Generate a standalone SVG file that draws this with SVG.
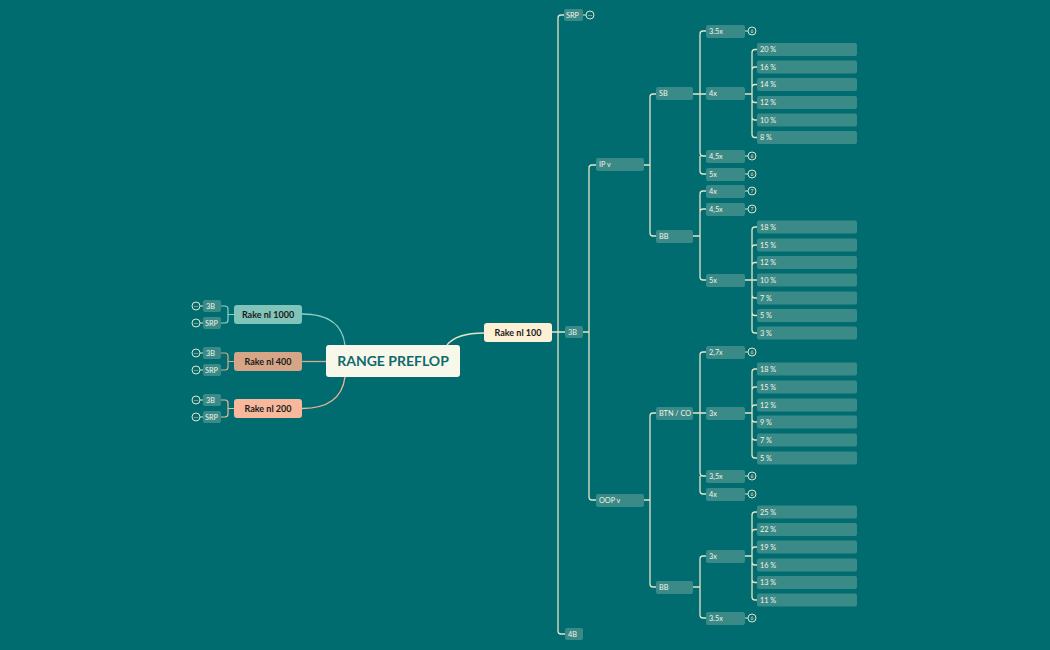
<svg xmlns="http://www.w3.org/2000/svg" width="1050" height="650" viewBox="0 0 1050 650">
<style>
.n{fill:#3a8a87}
.t{font-family:"Lato","Noto Sans",sans-serif;font-size:7.3px;font-weight:normal;fill:#f4f3e8}
.c{fill:none;stroke:#e6e3c8;stroke-width:1.3}
.b{fill:none;stroke:#e6e3c8;stroke-width:1}
.bt{font-family:"Lato","Noto Sans",sans-serif;font-size:5px;fill:#e6e3c8;text-anchor:middle}
.r{font-family:"Lato","Noto Sans",sans-serif;font-size:9px;font-weight:bold;fill:#1b1b1b;text-anchor:middle}
</style>
<rect width="1050" height="650" fill="#016c70"/>
<g id="connectors">
<path stroke="#8fd1c7" stroke-width="1.3" fill="none" d="M302 314 C335 314 343 330 345 345"/>
<path stroke="#d9a98a" stroke-width="1.3" fill="none" d="M302 361.5 H326"/>
<path stroke="#f6b59a" stroke-width="1.3" fill="none" d="M302 408.5 C335 408.5 343 392 345 377"/>
<path class="c" d="M447 345 C455 335 470 333 484 333"/>
<path stroke="#8fd1c7" stroke-width="1.2" fill="none" d="M234 314.5 H228 V309 Q228 306 225 306 H221 M228 314.5 V320 Q228 323 225 323 H221"/>
<path stroke="#d9a98a" stroke-width="1.2" fill="none" d="M234 361.5 H228 V356 Q228 353 225 353 H221 M228 361.5 V367 Q228 370 225 370 H221"/>
<path stroke="#f6b59a" stroke-width="1.2" fill="none" d="M234 408.5 H228 V403 Q228 400 225 400 H221 M228 408.5 V414 Q228 417 225 417 H221"/>
<path class="c" d="M552 332 H565 M558 332 V18 Q558 15 561 15 H564 M558 332 V631 Q558 634 561 634 H565"/>
<path class="c" d="M583 332 H589 V168 Q589 165 592 165 H596 M589 332 V497 Q589 500 592 500 H596"/>
<path class="c" d="M644 165 H650 V97 Q650 94 653 94 H656 M650 165 V233 Q650 236 653 236 H656"/>
<path class="c" d="M693 94 H706 M700 94 V34 Q700 31 703 31 H706 M700 94 V153 Q700 156 703 156 H706 M700 156 V171 Q700 174 703 174 H706"/>
<path class="c" d="M745 94 H752 V52.5 Q752 49.5 755 49.5 H757 M752 94 V70 Q752 67 755 67 H757 M752 94 V87.5 Q752 84.5 755 84.5 H757 M752 94 V99.5 Q752 102.5 755 102.5 H757 M752 94 V117 Q752 120 755 120 H757 M752 94 V134.5 Q752 137.5 755 137.5 H757"/>
<path class="c" d="M693 236 H700 V194 Q700 191 703 191 H706 M700 236 V212 Q700 209 703 209 H706 M700 236 V277 Q700 280 703 280 H706"/>
<path class="c" d="M745 280 H757 M752 280 V230 Q752 227 755 227 H757 M752 280 V248 Q752 245 755 245 H757 M752 280 V265.5 Q752 262.5 755 262.5 H757 M752 280 V295 Q752 298 755 298 H757 M752 280 V312.5 Q752 315.5 755 315.5 H757 M752 280 V330 Q752 333 755 333 H757"/>
<path class="c" d="M644 500 H650 V416 Q650 413 653 413 H656 M650 500 V584 Q650 587 653 587 H656"/>
<path class="c" d="M693 413 H706 M700 413 V355 Q700 352 703 352 H706 M700 413 V473 Q700 476 703 476 H706 M700 476 V491 Q700 494 703 494 H706"/>
<path class="c" d="M745 413 H752 V372 Q752 369 755 369 H757 M752 413 V390 Q752 387 755 387 H757 M752 413 V408 Q752 405 755 405 H757 M752 413 V419 Q752 422 755 422 H757 M752 413 V437 Q752 440 755 440 H757 M752 413 V455 Q752 458 755 458 H757"/>
<path class="c" d="M693 587 H700 V559 Q700 556 703 556 H706 M700 587 V615 Q700 618 703 618 H706"/>
<path class="c" d="M745 556 H752 V515 Q752 512 755 512 H757 M752 556 V532.5 Q752 529.5 755 529.5 H757 M752 556 V550 Q752 547 755 547 H757 M752 556 V562 Q752 565 755 565 H757 M752 556 V579.5 Q752 582.5 755 582.5 H757 M752 556 V597 Q752 600 755 600 H757"/>
</g>
<g id="badges">
<g class="b"><path d="M583 15 H586 M745 31 H748 M745 156 H748 M745 174 H748 M745 191 H748 M745 209 H748 M745 352 H748 M745 476 H748 M745 494 H748 M745 618 H748 M200 306 H203 M200 323 H203 M200 353 H203 M200 370 H203 M200 400 H203 M200 417 H203"/>
<circle cx="590" cy="15" r="4"/><circle cx="752" cy="31" r="4"/><circle cx="752" cy="156" r="4"/><circle cx="752" cy="174" r="4"/><circle cx="752" cy="191" r="4"/><circle cx="752" cy="209" r="4"/><circle cx="752" cy="352" r="4"/><circle cx="752" cy="476" r="4"/><circle cx="752" cy="494" r="4"/><circle cx="752" cy="618" r="4"/>
<circle cx="196" cy="306" r="4"/><circle cx="196" cy="323" r="4"/><circle cx="196" cy="353" r="4"/><circle cx="196" cy="370" r="4"/><circle cx="196" cy="400" r="4"/><circle cx="196" cy="417" r="4"/></g>
<text class="bt" x="590" y="16.5">···</text><text class="bt" x="752" y="32.7">6</text><text class="bt" x="752" y="157.7">6</text><text class="bt" x="752" y="175.7">6</text><text class="bt" x="752" y="192.7">7</text><text class="bt" x="752" y="210.7">7</text><text class="bt" x="752" y="353.7">6</text><text class="bt" x="752" y="477.7">6</text><text class="bt" x="752" y="495.7">6</text><text class="bt" x="752" y="619.7">6</text>
<text class="bt" x="196" y="307.5">···</text><text class="bt" x="196" y="324.5">···</text><text class="bt" x="196" y="354.5">···</text><text class="bt" x="196" y="371.5">···</text><text class="bt" x="196" y="401.5">···</text><text class="bt" x="196" y="418.5">···</text>
</g>
<g id="center"><rect x="326" y="345" width="134" height="32" rx="3" fill="#f7f7ea"/><text x="393" y="366" text-anchor="middle" font-family="Lato,'Noto Sans',sans-serif" font-size="14" font-weight="bold" fill="#0f6a6e">RANGE PREFLOP</text></g>
<g id="rake1000"><rect x="234" y="305" width="68" height="19" rx="3" fill="#80c4ba"/><text class="r" x="268" y="317.5">Rake nl 1000</text></g>
<g id="rake400"><rect x="234" y="352" width="68" height="19" rx="3" fill="#d4a687"/><text class="r" x="268" y="364.5">Rake nl 400</text></g>
<g id="rake200"><rect x="234" y="399" width="68" height="19" rx="3" fill="#f8b89b"/><text class="r" x="268" y="411.5">Rake nl 200</text></g>
<g id="rake100"><rect x="484" y="323" width="68" height="19" rx="3" fill="#fdf0d5"/><text class="r" x="518" y="335.5">Rake nl 100</text></g>
<g id="l1000-3b"><rect class="n" x="203" y="300" width="18" height="12" rx="2"/><text class="t" x="206" y="308.5">3B</text></g>
<g id="l1000-srp"><rect class="n" x="203" y="317" width="18" height="12" rx="2"/><text class="t" x="205" y="325.5">SRP</text></g>
<g id="l400-3b"><rect class="n" x="203" y="347" width="18" height="12" rx="2"/><text class="t" x="206" y="355.5">3B</text></g>
<g id="l400-srp"><rect class="n" x="203" y="364" width="18" height="12" rx="2"/><text class="t" x="205" y="372.5">SRP</text></g>
<g id="l200-3b"><rect class="n" x="203" y="394" width="18" height="12" rx="2"/><text class="t" x="206" y="402.5">3B</text></g>
<g id="l200-srp"><rect class="n" x="203" y="411" width="18" height="12" rx="2"/><text class="t" x="205" y="419.5">SRP</text></g>
<g id="srp"><rect class="n" x="564" y="9" width="19" height="12" rx="2"/><text class="t" x="566" y="17.5">SRP</text></g>
<g id="b3"><rect class="n" x="565" y="326" width="18" height="12" rx="2"/><text class="t" x="568" y="334.5">3B</text></g>
<g id="b4"><rect class="n" x="565" y="628" width="18" height="12" rx="2"/><text class="t" x="568" y="636.5">4B</text></g>
<g id="ipv"><rect class="n" x="596" y="158" width="48" height="13" rx="2"/><text class="t" x="599" y="167">IP v</text></g>
<g id="oopv"><rect class="n" x="596" y="494" width="48" height="13" rx="2"/><text class="t" x="599" y="503">OOP v</text></g>
<g id="ip-sb"><rect class="n" x="656" y="87" width="37" height="13" rx="2"/><text class="t" x="659" y="96">SB</text></g>
<g id="ip-bb"><rect class="n" x="656" y="230" width="37" height="13" rx="2"/><text class="t" x="659" y="239">BB</text></g>
<g id="oop-btn"><rect class="n" x="656" y="407" width="37" height="13" rx="2"/><text class="t" x="659" y="416">BTN / CO</text></g>
<g id="oop-bb"><rect class="n" x="656" y="581" width="37" height="13" rx="2"/><text class="t" x="659" y="590">BB</text></g>
<g id="sb-35"><rect class="n" x="706" y="25" width="39" height="13" rx="2"/><text class="t" x="709" y="34">3.5x</text></g>
<g id="sb-4"><rect class="n" x="706" y="87" width="39" height="13" rx="2"/><text class="t" x="709" y="96">4x</text></g>
<g id="sb-45"><rect class="n" x="706" y="150" width="39" height="13" rx="2"/><text class="t" x="709" y="159">4,5x</text></g>
<g id="sb-5"><rect class="n" x="706" y="168" width="39" height="13" rx="2"/><text class="t" x="709" y="177">5x</text></g>
<g id="bb-4"><rect class="n" x="706" y="185" width="39" height="13" rx="2"/><text class="t" x="709" y="194">4x</text></g>
<g id="bb-45"><rect class="n" x="706" y="203" width="39" height="13" rx="2"/><text class="t" x="709" y="212">4,5x</text></g>
<g id="bb-5"><rect class="n" x="706" y="274" width="39" height="13" rx="2"/><text class="t" x="709" y="283">5x</text></g>
<g id="btn-27"><rect class="n" x="706" y="346" width="39" height="13" rx="2"/><text class="t" x="709" y="355">2,7x</text></g>
<g id="btn-3"><rect class="n" x="706" y="407" width="39" height="13" rx="2"/><text class="t" x="709" y="416">3x</text></g>
<g id="btn-35"><rect class="n" x="706" y="470" width="39" height="13" rx="2"/><text class="t" x="709" y="479">3,5x</text></g>
<g id="btn-4"><rect class="n" x="706" y="488" width="39" height="13" rx="2"/><text class="t" x="709" y="497">4x</text></g>
<g id="obb-3"><rect class="n" x="706" y="550" width="39" height="13" rx="2"/><text class="t" x="709" y="559">3x</text></g>
<g id="obb-35"><rect class="n" x="706" y="612" width="39" height="13" rx="2"/><text class="t" x="709" y="621">3.5x</text></g>
<g id="p1"><rect class="n" x="757" y="43" width="100" height="13" rx="2"/><text class="t" x="760" y="52">20 %</text></g>
<g id="p2"><rect class="n" x="757" y="60.5" width="100" height="13" rx="2"/><text class="t" x="760" y="69.5">16 %</text></g>
<g id="p3"><rect class="n" x="757" y="78" width="100" height="13" rx="2"/><text class="t" x="760" y="87">14 %</text></g>
<g id="p4"><rect class="n" x="757" y="96" width="100" height="13" rx="2"/><text class="t" x="760" y="105">12 %</text></g>
<g id="p5"><rect class="n" x="757" y="113.5" width="100" height="13" rx="2"/><text class="t" x="760" y="122.5">10 %</text></g>
<g id="p6"><rect class="n" x="757" y="131" width="100" height="13" rx="2"/><text class="t" x="760" y="140">8 %</text></g>
<g id="q1"><rect class="n" x="757" y="220.5" width="100" height="13" rx="2"/><text class="t" x="760" y="229.5">18 %</text></g>
<g id="q2"><rect class="n" x="757" y="238.5" width="100" height="13" rx="2"/><text class="t" x="760" y="247.5">15 %</text></g>
<g id="q3"><rect class="n" x="757" y="256" width="100" height="13" rx="2"/><text class="t" x="760" y="265">12 %</text></g>
<g id="q4"><rect class="n" x="757" y="273.5" width="100" height="13" rx="2"/><text class="t" x="760" y="282.5">10 %</text></g>
<g id="q5"><rect class="n" x="757" y="291.5" width="100" height="13" rx="2"/><text class="t" x="760" y="300.5">7 %</text></g>
<g id="q6"><rect class="n" x="757" y="309" width="100" height="13" rx="2"/><text class="t" x="760" y="318">5 %</text></g>
<g id="q7"><rect class="n" x="757" y="326.5" width="100" height="13" rx="2"/><text class="t" x="760" y="335.5">3 %</text></g>
<g id="r1"><rect class="n" x="757" y="362.5" width="100" height="13" rx="2"/><text class="t" x="760" y="371.5">18 %</text></g>
<g id="r2"><rect class="n" x="757" y="380.5" width="100" height="13" rx="2"/><text class="t" x="760" y="389.5">15 %</text></g>
<g id="r3"><rect class="n" x="757" y="398.5" width="100" height="13" rx="2"/><text class="t" x="760" y="407.5">12 %</text></g>
<g id="r4"><rect class="n" x="757" y="415.5" width="100" height="13" rx="2"/><text class="t" x="760" y="424.5">9 %</text></g>
<g id="r5"><rect class="n" x="757" y="433.5" width="100" height="13" rx="2"/><text class="t" x="760" y="442.5">7 %</text></g>
<g id="r6"><rect class="n" x="757" y="451.5" width="100" height="13" rx="2"/><text class="t" x="760" y="460.5">5 %</text></g>
<g id="s1"><rect class="n" x="757" y="505.5" width="100" height="13" rx="2"/><text class="t" x="760" y="514.5">25 %</text></g>
<g id="s2"><rect class="n" x="757" y="523" width="100" height="13" rx="2"/><text class="t" x="760" y="532">22 %</text></g>
<g id="s3"><rect class="n" x="757" y="540.5" width="100" height="13" rx="2"/><text class="t" x="760" y="549.5">19 %</text></g>
<g id="s4"><rect class="n" x="757" y="558.5" width="100" height="13" rx="2"/><text class="t" x="760" y="567.5">16 %</text></g>
<g id="s5"><rect class="n" x="757" y="576" width="100" height="13" rx="2"/><text class="t" x="760" y="585">13 %</text></g>
<g id="s6"><rect class="n" x="757" y="593.5" width="100" height="13" rx="2"/><text class="t" x="760" y="602.5">11 %</text></g>
</svg>
